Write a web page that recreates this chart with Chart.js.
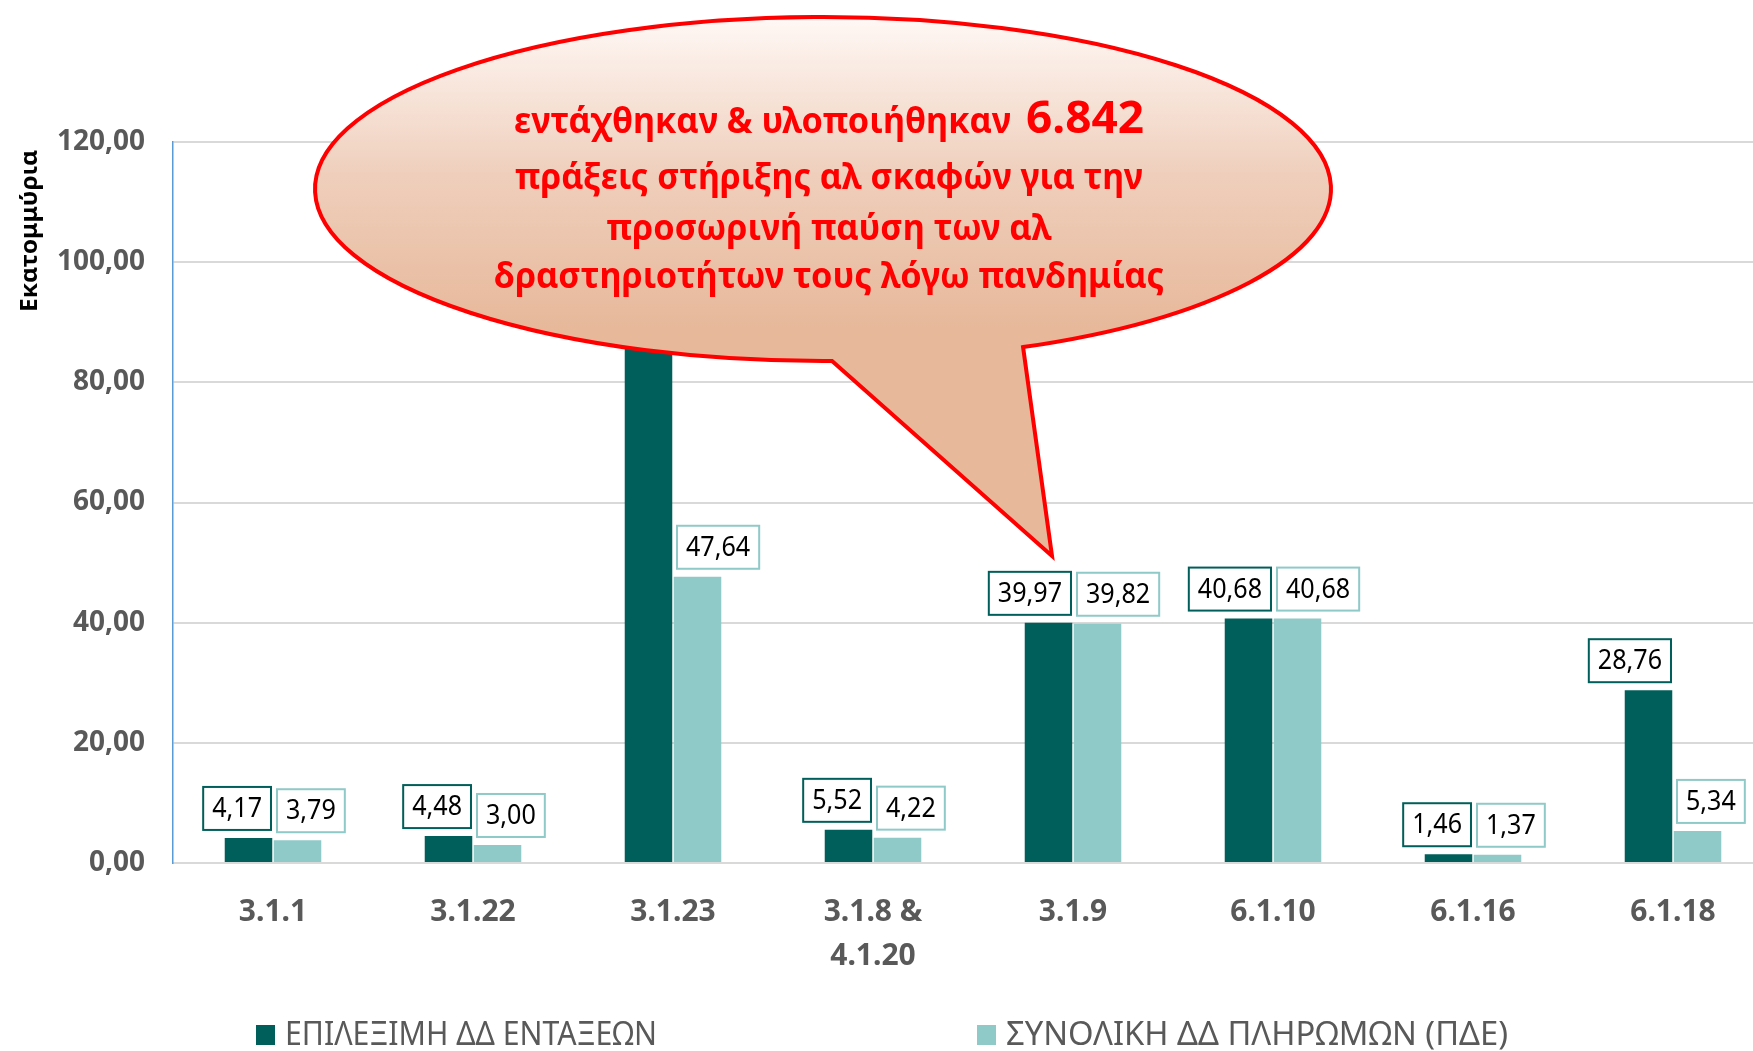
<!DOCTYPE html>
<html>
<head>
<meta charset="utf-8">
<script src="https://cdn.jsdelivr.net/npm/chart.js@4.4.0/dist/chart.umd.min.js"></script>
<style>
  html, body { margin: 0; padding: 0; background: #ffffff; overflow: hidden; }
  #wrap { width: 1775px; height: 1051px; position: relative; }
</style>
</head>
<body>
<div id="wrap"><canvas id="mainChart"></canvas></div>
<script>
// Δεδομένα
const categories = ['3.1.1', '3.1.22', '3.1.23', ['3.1.8 &', '4.1.20'], '3.1.9', '6.1.10', '6.1.16', '6.1.18'];
const eligibleValues = [4.17, 4.48, 96.5, 5.52, 39.97, 40.68, 1.46, 28.76]; // 3.1.23 κρύβεται πίσω από το σχόλιο
const paymentValues = [3.79, 3.00, 47.64, 4.22, 39.82, 40.68, 1.37, 5.34];
const seriesNames = ['ΕΠΙΛΕΞΙΜΗ ΔΔ ΕΝΤΑΞΕΩΝ', 'ΣΥΝΟΛΙΚΗ ΔΔ ΠΛΗΡΩΜΩΝ (ΠΔΕ)'];
const yMin = 0, yMax = 120, yStep = 20;
const yTitle = 'Εκατομμύρια';
const calloutLines = [
    ['εντάχθηκαν & υλοποιήθηκαν', '6.842'],
    ['πράξεις στήριξης αλ σκαφών για την'],
    ['προσωρινή παύση των αλ'],
    ['δραστηριοτήτων τους λόγω πανδημίας']
];

const darkColor = '#005F5A';
const lightColor = '#8FC9C8';
const greyText = '#595959';

const fmt = v => v.toFixed(2).replace('.', ',');

// κείμενο με οριζόντια προσαρμογή σε πλάτος
function fitText(c, text, x, y, target) {
    const w = c.measureText(text).width;
    const s = target ? target / w : 1;
    c.save();
    c.translate(x, y);
    c.scale(s, 1);
    c.fillText(text, 0, 0);
    c.restore();
    return w * s;
}

// ετικέτες τιμών σε πλαίσια
const valueBoxes = {
    id: 'valueBoxes',
    afterDatasetsDraw(chart) {
        const c = chart.ctx;
        const xs = chart.scales.x;
        c.save();
        c.font = '27px "Noto Sans"';
        c.textBaseline = 'middle';
        c.textAlign = 'center';
        chart.data.datasets.forEach((ds, di) => {
            const meta = chart.getDatasetMeta(di);
            meta.data.forEach((bar, i) => {
                const txt = fmt(ds.data[i]);
                const tw = c.measureText(txt).width;
                const w = tw * 0.93 + 18;
                const h = 43;
                const cx = xs.getPixelForValue(i);
                const left = di === 0 ? cx - 2 - w : cx + 4;
                const top = bar.y - 8 - h;
                c.fillStyle = '#ffffff';
                c.fillRect(left, top, w, h);
                c.lineWidth = 2;
                c.strokeStyle = ds.backgroundColor;
                c.strokeRect(left, top, w, h);
                c.fillStyle = '#000000';
                c.save();
                c.translate(left + w / 2, top + h / 2 + 1);
                c.scale(0.93, 1);
                c.fillText(txt, 0, 0);
                c.restore();
            });
        });
        c.restore();
    }
};

// τίτλος άξονα, υπόμνημα, σχόλιο
const extras = {
    id: 'extras',
    afterDraw(chart) {
        const c = chart.ctx;
        c.save();

        // τίτλος άξονα y
        c.save();
        c.translate(30, 231);
        c.rotate(-Math.PI / 2);
        c.font = 'bold 23px "Noto Sans"';
        c.fillStyle = '#000000';
        c.textBaseline = 'middle';
        c.textAlign = 'left';
        fitText(c, yTitle, -81, 0, 162);
        c.restore();

        // υπόμνημα
        const legX = [256, 977];
        const legW = [372, 502];
        c.font = '32px "Noto Sans"';
        c.textBaseline = 'middle';
        c.textAlign = 'left';
        chart.data.datasets.forEach((ds, di) => {
            c.fillStyle = ds.backgroundColor;
            c.fillRect(legX[di], 1025, 19, 20);
            c.fillStyle = greyText;
            fitText(c, ds.label, legX[di] + 29, 1036, legW[di]);
        });

        // σχόλιο (συννεφάκι)
        const ex = 823, ey = 189, rx = 508, ry = 172;
        c.beginPath();
        c.ellipse(ex, ey, rx, ry, 0, 1.553, 1.166 + Math.PI * 2, false);
        c.lineTo(1052, 556);
        c.closePath();
        const g = c.createLinearGradient(0, 17, 0, 330);
        g.addColorStop(0, '#FFF8F5');
        g.addColorStop(0.5, '#EFCFBC');
        g.addColorStop(1, '#E7B89A');
        c.fillStyle = g;
        c.fill();
        c.lineWidth = 4;
        c.strokeStyle = '#FF0000';
        c.lineJoin = 'miter';
        c.stroke();

        c.fillStyle = '#FF0000';
        c.textBaseline = 'middle';
        c.textAlign = 'left';
        // πρώτη γραμμή: κείμενο + μεγάλος αριθμός
        c.font = 'bold 35px "Noto Sans"';
        fitText(c, calloutLines[0][0], 514, 123, 497);
        c.font = 'bold 45px "Noto Sans"';
        fitText(c, calloutLines[0][1], 1026, 120, 118);
        c.font = 'bold 35px "Noto Sans"';
        const rows = [[179, 628], [230, 445], [278, 670]];
        rows.forEach((r, k) => {
            fitText(c, calloutLines[k + 1][0], 829 - r[1] / 2, r[0], r[1]);
        });

        c.restore();
    }
};

const ctx = document.getElementById('mainChart').getContext('2d');
const mainChart = new Chart(ctx, {
    type: 'bar',
    data: {
        labels: categories,
        datasets: [{
            label: seriesNames[0],
            data: eligibleValues,
            backgroundColor: darkColor,
            categoryPercentage: 0.49,
            barPercentage: 0.97
        }, {
            label: seriesNames[1],
            data: paymentValues,
            backgroundColor: lightColor,
            categoryPercentage: 0.49,
            barPercentage: 0.97
        }]
    },
    options: {
        animation: false,
        responsive: true,
        maintainAspectRatio: false,
        layout: {
            padding: { left: 0, right: 2, top: 142, bottom: 0 }
        },
        plugins: {
            legend: { display: false },
            tooltip: { enabled: false }
        },
        scales: {
            x: {
                grid: { display: false },
                border: { display: true, color: '#D9D9D9', width: 2 },
                ticks: {
                    color: greyText,
                    font: { family: 'Noto Sans', weight: 'bold', size: 30, lineHeight: 1.45 },
                    padding: 20,
                    maxRotation: 0,
                    autoSkip: false
                },
                afterFit(scale) { scale.height = 188; }
            },
            y: {
                min: yMin,
                max: yMax,
                grid: { color: '#D9D9D9', lineWidth: 2, drawTicks: false },
                border: { display: true, color: '#5B9BD5', width: 1.5 },
                ticks: {
                    stepSize: yStep,
                    color: greyText,
                    padding: 28,
                    font: { family: 'Noto Sans', weight: 'bold', size: 28 },
                    callback: v => fmt(v)
                },
                afterFit(scale) { scale.width = 173; }
            }
        }
    },
    plugins: [valueBoxes, extras]
});
</script>
</body>
</html>
